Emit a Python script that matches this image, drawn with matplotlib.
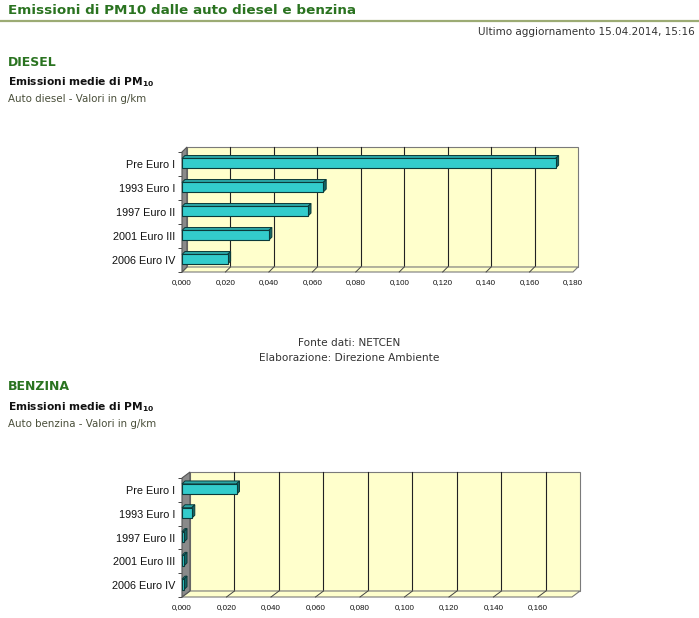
import matplotlib
matplotlib.use('Agg')
import matplotlib.pyplot as plt
from matplotlib.patches import Rectangle, Polygon

categories = ['Pre Euro I', '1993 Euro I', '1997 Euro II', '2001 Euro III', '2006 Euro IV']
diesel = [0.172, 0.065, 0.058, 0.040, 0.021]
benzina = [0.0245, 0.0044, 0.0009, 0.0009, 0.0009]
diesel_ticks = [0.00, 0.02, 0.04, 0.06, 0.08, 0.10, 0.12, 0.14, 0.16, 0.18]
benzina_ticks = [0.00, 0.02, 0.04, 0.06, 0.08, 0.10, 0.12, 0.14, 0.16]

W, H = 699, 618
GREEN = '#2a7320'
fig = plt.figure(figsize=(W/100, H/100), dpi=100)
fig.patch.set_facecolor('white')

def px(x, y):
    return x/W, 1-y/H

def ptext(x, y, s, **kw):
    fx, fy = px(x, y)
    fig.text(fx, fy, s, va='center', **kw)

# header
ptext(8, 11, 'Emissioni di PM10 dalle auto diesel e benzina', fontsize=9.7, color=GREEN, weight='bold')
fig.add_artist(plt.Line2D([0, 1], [1-21/H, 1-21/H], color='#9cab74', lw=1.6))
ptext(695, 32, 'Ultimo aggiornamento 15.04.2014, 15:16', fontsize=7.5, color='#333333', ha='right')

ptext(8, 63, 'DIESEL', fontsize=9, color=GREEN, weight='bold')
ptext(8, 82, r'Emissioni medie di PM$_{\mathbf{10}}$', fontsize=7.7, color='#111111', weight='bold')
ptext(8, 99, 'Auto diesel - Valori in g/km', fontsize=7.4, color='#4a4f3a')

ptext(349, 343, 'Fonte dati: NETCEN', fontsize=7.6, color='#333333', ha='center')
ptext(349, 358, 'Elaborazione: Direzione Ambiente', fontsize=7.6, color='#333333', ha='center')

ptext(8, 387, 'BENZINA', fontsize=9, color=GREEN, weight='bold')
ptext(8, 407, r'Emissioni medie di PM$_{\mathbf{10}}$', fontsize=7.7, color='#111111', weight='bold')
ptext(8, 424, 'Auto benzina - Valori in g/km', fontsize=7.4, color='#4a4f3a')


def chart(box, values, xmax, ticks, depth, bar_h):
    x0, y0, x1, y1 = box
    fx0, fy1 = px(x0, y1)
    ax = fig.add_axes([fx0, fy1, (x1-x0)/W, (y1-y0)/H])
    ax.set_xlim(0, xmax)
    ax.set_ylim(4.5, -0.5)
    ax.patch.set_visible(False)
    for s in ax.spines.values():
        s.set_visible(False)
    wpx, hpx = x1-x0, y1-y0
    ox = depth[0]*xmax/wpx
    oy = depth[1]*5/hpx
    top, bot = -0.5, 4.5
    kw = dict(clip_on=False)
    # back wall
    ax.add_patch(Rectangle((ox, top-oy), xmax, 5, fc='#ffffcc', ec='#7a7a7a', lw=0.8, zorder=1, **kw))
    # floor
    ax.add_patch(Polygon([(0, bot), (xmax, bot), (xmax+ox, bot-oy), (ox, bot-oy)],
                         closed=True, fc='#ffffcc', ec='#7a7a7a', lw=0.8, zorder=2, **kw))
    # left wall
    ax.add_patch(Polygon([(0, bot), (0, top), (ox, top-oy), (ox, bot-oy)],
                         closed=True, fc='#8a8a8a', ec='#555555', lw=0.8, zorder=2, **kw))
    # grid lines on the back wall and the floor
    for t in ticks[1:]:
        if t >= xmax:
            continue
        ax.plot([t+ox, t+ox], [bot-oy, top-oy], color='#222222', lw=0.8, zorder=1.5, **kw)
        ax.plot([t, t+ox], [bot, bot-oy], color='#444444', lw=0.7, zorder=2.5, **kw)
    # bars
    bx = 3*xmax/wpx
    by = 3*5/hpx
    for i, v in enumerate(values):
        yt = i - bar_h/2 - 0.03
        yb = yt + bar_h
        ax.add_patch(Polygon([(0, yt), (v, yt), (v+bx, yt-by), (bx, yt-by)], closed=True,
                             fc='#2aa5a5', ec='#0c3a3a', lw=0.7, zorder=3, **kw))
        ax.add_patch(Polygon([(v, yt), (v, yb), (v+bx, yb-by), (v+bx, yt-by)], closed=True,
                             fc='#126868', ec='#0c3a3a', lw=0.7, zorder=3, **kw))
        ax.barh(i, v, height=bar_h, left=0, align='center', color='#33cccc',
                edgecolor='#0c3a3a', lw=0.8, zorder=4)
        ax.patches[-1].set_y(yt)
    ax.set_yticks(range(len(categories)))
    ax.set_yticklabels(categories, fontsize=7.8, family='Liberation Sans', color='#111111')
    ax.set_yticks([k - 0.5 for k in range(6)], minor=True)
    ax.tick_params(axis='y', which='major', length=0, pad=5)
    ax.tick_params(axis='y', which='minor', length=3, width=0.7, color='#444444')
    ax.set_xticks(ticks)
    labels = [('%.3f' % t).replace('.', ',') for t in ticks]
    ax.set_xticklabels(labels, fontsize=5.8, family='Liberation Sans', color='#111111')
    ax.tick_params(axis='x', length=0, pad=5)
    return ax

chart((182, 152, 573, 272), diesel, 0.18, diesel_ticks, (5, 5), 0.40)
chart((182, 478, 572, 597), benzina, 0.1753, benzina_ticks, (8, 6), 0.44)

fig.savefig('out.png', dpi=100)
